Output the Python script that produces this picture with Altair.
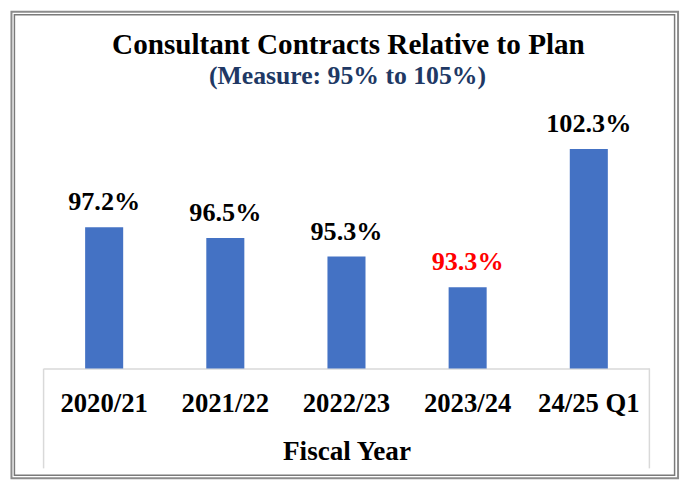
import altair as alt
import pandas as pd

# ---- data ----
years = ["2020/21", "2021/22", "2022/23", "2023/24", "24/25 Q1"]
values = [97.2, 96.5, 95.3, 93.3, 102.3]
label_colors = ["black", "black", "black", "#FF0000", "black"]
y_min, y_max = 88, 105.5

title_text = "Consultant Contracts Relative to Plan"
subtitle_text = "(Measure: 95% to 105%)"
x_title = "Fiscal Year"

df = pd.DataFrame({
    "year": years,
    "value": values,
    "lc": label_colors,
})
df["label"] = [f"{v:.1f}%" for v in values]

FONT = "Liberation Serif"
W, H = 613, 272

x_enc = alt.X(
    "year:N",
    sort=years,
    scale=alt.Scale(paddingInner=0.686, paddingOuter=0.343),
    axis=alt.Axis(
        title=x_title,
        labelAngle=0,
        labelFont=FONT,
        labelFontSize=27,
        labelFontWeight="bold",
        labelColor="black",
        labelBaseline="alphabetic",
        labelPadding=43,
        ticks=False,
        domainColor="#D9D9D9",
        domainWidth=1.5,
        titleFont=FONT,
        titleFontSize=27.5,
        titleFontWeight="bold",
        titleColor="black",
        titleBaseline="alphabetic",
        titleY=92,
    ),
)
y_enc = alt.Y(
    "value:Q",
    scale=alt.Scale(domain=[y_min, y_max], zero=False, nice=False),
    axis=None,
)

base = alt.Chart(df).encode(x=x_enc, y=y_enc)

bars = base.mark_bar(color="#4472C4").encode(y2=alt.datum(y_min))

labels = base.mark_text(
    dy=-17,
    baseline="alphabetic",
    font=FONT,
    fontSize=26.5,
    fontWeight="bold",
).encode(
    text="label:N",
    color=alt.Color("lc:N", scale=None),
)

one = pd.DataFrame({"a": [0]})

title = alt.Chart(one).mark_text(
    font=FONT, fontSize=29.5, fontWeight="bold", color="black",
    baseline="alphabetic", align="center",
).encode(x=alt.value(W / 2 + 2), y=alt.value(-46), text=alt.value(title_text))

subtitle = alt.Chart(one).mark_text(
    font=FONT, fontSize=26, fontWeight="bold", color="#203864",
    baseline="alphabetic", align="center",
).encode(x=alt.value(W / 2 + 1), y=alt.value(-16), text=alt.value(subtitle_text))

box_left = alt.Chart(one).mark_rule(color="#D9D9D9", strokeWidth=1.5).encode(
    x=alt.value(0), y=alt.value(H), y2=alt.value(H + 101)
)
box_right = alt.Chart(one).mark_rule(color="#D9D9D9", strokeWidth=1.5).encode(
    x=alt.value(W), y=alt.value(H), y2=alt.value(H + 101)
)

outer = alt.Chart(one).mark_rect(
    filled=False, stroke="#8C8C8C", strokeWidth=2
).encode(x=alt.value(-32.5), x2=alt.value(642), y=alt.value(-89), y2=alt.value(383))
inner = alt.Chart(one).mark_rect(
    filled=False, stroke="#7A7A7A", strokeWidth=1.5
).encode(x=alt.value(-29.5), x2=alt.value(638.5), y=alt.value(-86), y2=alt.value(380))

chart = alt.layer(
    bars, labels, title, subtitle, box_left, box_right, outer, inner
).properties(
    width=W,
    height=H,
    autosize=alt.AutoSizeParams(type="none"),
    padding={"left": 36, "top": 90, "right": 33, "bottom": 115},
    background="white",
).configure_view(strokeWidth=0)

chart.save("out.html", embed_options={"renderer": "svg", "actions": False})
